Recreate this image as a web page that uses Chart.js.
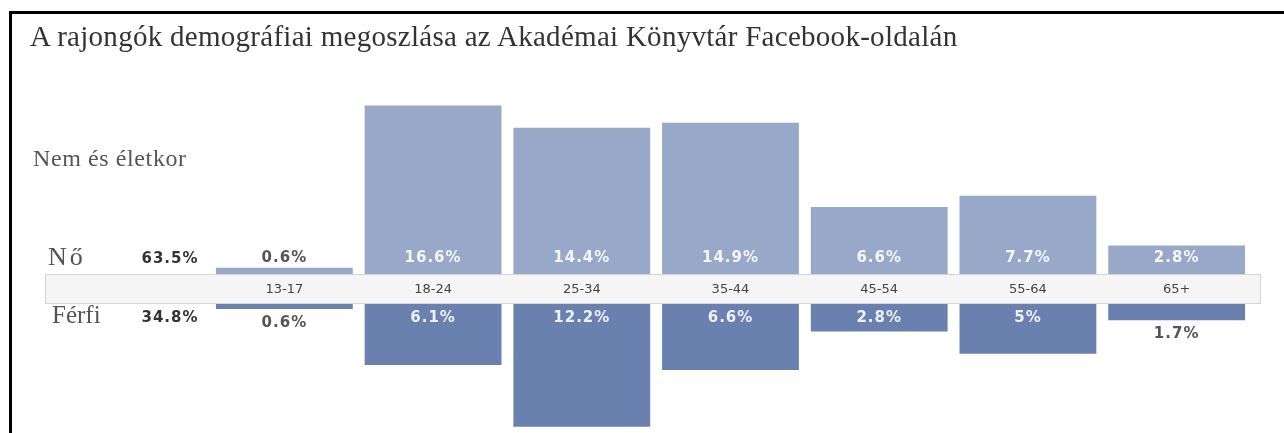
<!DOCTYPE html>
<html>
<head>
<meta charset="utf-8">
<script src="https://cdn.jsdelivr.net/npm/chart.js@4/dist/chart.umd.min.js"></script>
<style>
  html, body { margin: 0; padding: 0; background: #fff; }
  #wrap { position: relative; width: 1284px; height: 433px; overflow: hidden; }
  #frame { position: absolute; left: 9px; top: 11px; right: -5px; bottom: -5px;
           border-top: 3px solid #000; border-left: 3px solid #000; }
  #chart { position: absolute; left: 0; top: 0; }
  .lbl { position: absolute; font-family: 'Liberation Serif', serif; color: #555;
         white-space: nowrap; line-height: 1; }
  #title { left: 30px; top: 22px; font-size: 29px; color: #333; letter-spacing: 0.28px; }
  #sub { left: 33px; top: 146px; font-size: 24px; letter-spacing: 0.6px; }
  #no { left: 48px; top: 244px; font-size: 26px; letter-spacing: 3px; }
  #ferfi { left: 52px; top: 302px; font-size: 25px; }
</style>
</head>
<body>
<div id="wrap">
  <div id="frame"></div>
  <canvas id="chart" width="1284" height="433"></canvas>
  <div class="lbl" id="title">A rajongók demográfiai megoszlása az Akadémai Könyvtár Facebook-oldalán</div>
  <div class="lbl" id="sub">Nem és életkor</div>
  <div class="lbl" id="no">Nő</div>
  <div class="lbl" id="ferfi">Férfi</div>
</div>
<script>
const ageGroups = ['13-17', '18-24', '25-34', '35-44', '45-54', '55-64', '65+'];
const women = [0.6, 16.6, 14.4, 14.9, 6.6, 7.7, 2.8];
const men = [0.6, 6.1, 12.2, 6.6, 2.8, 5, 1.7];
const totals = ['63.5%', '34.8%'];

// half height of the age band, in percent units
const GAP = 1.43;

const fmt = v => v + '%';

const bandPlugin = {
  id: 'band',
  afterDatasetsDraw(chart) {
    const { ctx, scales: { x, y } } = chart;
    const top = Math.round(y.getPixelForValue(GAP));
    const bottom = Math.round(y.getPixelForValue(-GAP));
    ctx.save();
    ctx.fillStyle = '#f5f5f5';
    ctx.fillRect(45, top, 1215, bottom - top);
    ctx.strokeStyle = '#d4d4d4';
    ctx.lineWidth = 1;
    ctx.strokeRect(45.5, top + 0.5, 1215, bottom - top);

    // age group labels
    ctx.fillStyle = '#444';
    ctx.font = '13px "DejaVu Sans"';
    ctx.textAlign = 'center';
    ctx.textBaseline = 'middle';
    ageGroups.forEach((g, i) => {
      ctx.fillText(g, x.getPixelForTick(i), (top + bottom) / 2 + 1);
    });

    // value labels
    ctx.font = 'bold 15px "DejaVu Sans"';
    ctx.letterSpacing = '1px';
    chart.getDatasetMeta(0).data.forEach((bar, i) => {
      const inside = bar.base - bar.y > 22;
      ctx.fillStyle = inside ? '#f4f6fb' : '#555';
      ctx.fillText(fmt(women[i]), bar.x, top - 16);
    });
    chart.getDatasetMeta(1).data.forEach((bar, i) => {
      const inside = bar.y - bar.base > 22;
      ctx.fillStyle = inside ? '#eef1f8' : '#555';
      ctx.fillText(fmt(men[i]), bar.x, inside ? bottom + 15 : bar.y + 14);
    });

    // totals
    ctx.fillStyle = '#333';
    ctx.fillText(totals[0], 170, top - 15);
    ctx.fillText(totals[1], 170, bottom + 15);
    ctx.restore();
  }
};

new Chart(document.getElementById('chart'), {
  type: 'bar',
  data: {
    labels: ageGroups,
    datasets: [
      {
        label: 'Nő',
        data: women.map(v => [GAP, GAP + v]),
        backgroundColor: '#97a8c8',
        borderWidth: 0,
      },
      {
        label: 'Férfi',
        data: men.map(v => [-GAP, -GAP - v]),
        backgroundColor: '#6a81b0',
        borderWidth: 0,
      }
    ]
  },
  options: {
    responsive: false,
    animation: false,
    events: [],
    layout: { padding: { left: 210, right: 33, top: 14, bottom: 0 } },
    datasets: {
      bar: { grouped: false, barPercentage: 0.92, categoryPercentage: 1 }
    },
    plugins: {
      legend: { display: false },
      tooltip: { enabled: false }
    },
    scales: {
      x: { display: false, offset: true, grid: { display: false } },
      y: { display: false, min: -14.24, max: 27.04 }
    }
  },
  plugins: [bandPlugin]
});
</script>
</body>
</html>
